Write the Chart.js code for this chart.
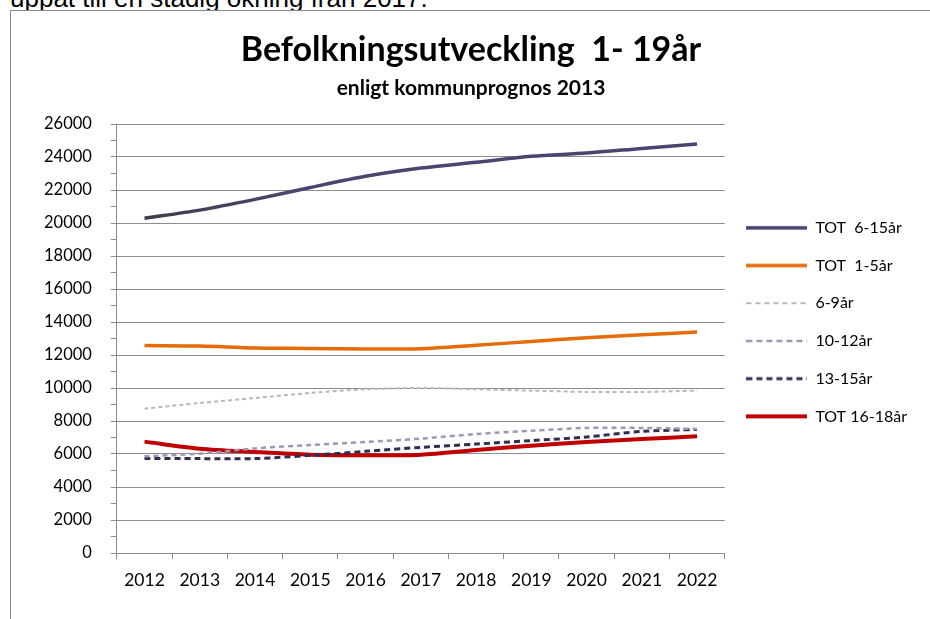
<!DOCTYPE html>
<html>
<head>
<meta charset="utf-8">
<script src="https://cdn.jsdelivr.net/npm/chart.js@4"></script>
<style>
  body { margin: 0; background: #fff; overflow: hidden; }
  #intro { position: absolute; left: 10px; top: -15.5px; font: 26px/26px "Liberation Sans", Arial, sans-serif; color: #000; white-space: nowrap; }
  #frame { position: absolute; left: 10px; top: 10px; width: 940px; height: 640px; border: 1px solid #8a8a8a; background: #fff; }
  #wrap { position: absolute; left: 11px; top: 11px; width: 918px; height: 607px; }
</style>
</head>
<body>
<div id="intro">uppåt till en stadig ökning från 2017.</div>
<div id="frame"></div>
<div id="wrap"><canvas id="myChart"></canvas></div>
<script>
var years = ['2012', '2013', '2014', '2015', '2016', '2017', '2018', '2019', '2020', '2021', '2022'];
var tot6_15 = [20290, 20780, 21430, 22150, 22830, 23330, 23680, 24040, 24240, 24520, 24790];
var tot1_5 = [12570, 12540, 12420, 12400, 12360, 12380, 12590, 12820, 13040, 13220, 13390];
var age6_9 = [8750, 9090, 9390, 9700, 9920, 10000, 9920, 9840, 9760, 9760, 9840];
var age10_12 = [5860, 6020, 6340, 6550, 6730, 6930, 7210, 7410, 7580, 7580, 7520];
var age13_15 = [5720, 5720, 5720, 5920, 6160, 6400, 6600, 6810, 7030, 7370, 7490];
var tot16_18 = [6750, 6320, 6120, 5960, 5920, 5960, 6240, 6500, 6730, 6910, 7070];

var font = 'Lato, "Open Sans", sans-serif';
var gray = '#8c8c8c';

// small line picture used as legend symbol, so dashed series show dashes
function swatch(color, width, dash) {
  var c = document.createElement('canvas');
  c.width = 61;
  c.height = 8;
  var g = c.getContext('2d');
  g.strokeStyle = color;
  g.lineWidth = width;
  g.setLineDash(dash || []);
  g.beginPath();
  g.moveTo(0, 4);
  g.lineTo(61, 4);
  g.stroke();
  return c;
}

// the first line fades from dark grey into purple, like the original
function darkToPurple(context) {
  var chart = context.chart;
  if (!chart.chartArea) return '#47466f';
  var a = chart.chartArea;
  var grad = chart.ctx.createLinearGradient(a.left, 0, a.right, 0);
  grad.addColorStop(0, '#3b3b42');
  grad.addColorStop(0.28, '#47466f');
  grad.addColorStop(1, '#47466f');
  return grad;
}

const ctx = document.getElementById('myChart').getContext('2d');
var graph = new Chart(ctx, {
  type: 'line',
  data: {
    labels: years,
    datasets: [
      { label: 'TOT  6-15år', data: tot6_15, borderColor: darkToPurple, borderWidth: 3.5,
        pointStyle: swatch('#47466f', 3.5) },
      { label: 'TOT  1-5år', data: tot1_5, borderColor: '#e46c0a', borderWidth: 3.5,
        pointStyle: swatch('#e46c0a', 3.5) },
      { label: '6-9år', data: age6_9, borderColor: '#bfb4bc', borderWidth: 2, borderDash: [4, 3],
        pointStyle: swatch('#bfb4bc', 2, [5, 4]) },
      { label: '10-12år', data: age10_12, borderColor: '#a394b4', borderWidth: 2.5, borderDash: [5, 4],
        pointStyle: swatch('#a394b4', 2.5, [6, 4]) },
      { label: '13-15år', data: age13_15, borderColor: '#2e2d56', borderWidth: 3, borderDash: [6, 4],
        pointStyle: swatch('#2e2d56', 3, [6, 4]) },
      { label: 'TOT 16-18år', data: tot16_18, borderColor: '#c00000', borderWidth: 4,
        pointStyle: swatch('#c00000', 4) }
    ]
  },
  options: {
    responsive: true,
    maintainAspectRatio: false,
    animation: false,
    elements: {
      point: { radius: 0, hoverRadius: 0 },
      line: { tension: 0.3, fill: false }
    },
    layout: { padding: { left: 14, right: 12, bottom: 16 } },
    plugins: {
      title: {
        display: true,
        text: 'Befolkningsutveckling  1- 19år',
        color: '#000',
        font: { family: font, size: 34, weight: 'bold' },
        padding: { top: 18.6, bottom: 5 }
      },
      subtitle: {
        display: true,
        text: 'enligt kommunprognos 2013',
        color: '#000',
        font: { family: font, size: 21, weight: 'bold' },
        padding: { top: 0, bottom: 23.4 }
      },
      legend: {
        position: 'right',
        align: 'center',
        title: { display: true, text: ' ', font: { size: 1 }, padding: { top: 15, bottom: 15 } },
        labels: {
          usePointStyle: true,
          pointStyleWidth: 61,
          padding: 21.7,
          color: '#000',
          font: { family: font, size: 16 }
        }
      },
      tooltip: { enabled: false }
    },
    scales: {
      y: {
        min: 0,
        max: 26000,
        border: { color: gray },
        grid: {
          color: function (c) { return c.tick.value % 2000 === 0 ? gray : 'rgba(0,0,0,0)'; },
          tickColor: gray,
          tickLength: 6
        },
        ticks: {
          stepSize: 1000,
          autoSkip: false,
          padding: 19,
          color: '#000',
          font: { family: font, size: 16.5 },
          callback: function (v) { return v % 2000 === 0 ? v : ''; }
        }
      },
      x: {
        offset: true,
        border: { color: gray },
        grid: { offset: true, drawOnChartArea: false, tickColor: gray, tickLength: 6 },
        ticks: {
          padding: 11,
          maxRotation: 0,
          color: '#000',
          font: { family: font, size: 17.5 }
        }
      }
    }
  }
});
</script>
</body>
</html>
